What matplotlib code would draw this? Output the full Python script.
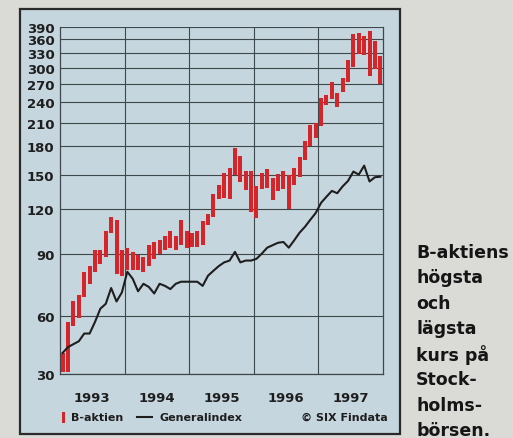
import numpy as np
import matplotlib
matplotlib.use("Agg")
import matplotlib.pyplot as plt
from matplotlib.patches import Rectangle
from matplotlib.lines import Line2D

# monthly high / low for the B share, Jan 1993 - Dec 1997
high = [41, 57, 66, 69, 80, 83, 92, 92, 104, 114, 112, 92,
        93, 91, 89, 88, 95, 97, 98, 101, 104, 101, 112, 104,
        103, 104, 111, 116, 132, 140, 152, 157, 178, 169, 154, 154,
        139, 152, 156, 147, 151, 154, 150, 157, 168, 187, 207, 210,
        247, 251, 274, 255, 280, 315, 373, 375, 368, 380, 357, 324]
low = [31, 31, 55, 59, 68, 74, 80, 84, 88, 103, 79, 78,
       81, 81, 81, 80, 83, 87, 90, 92, 93, 92, 95, 93,
       94, 94, 95, 108, 114, 128, 129, 128, 150, 143, 136, 118,
       113, 137, 138, 127, 135, 137, 120, 140, 148, 165, 180, 190,
       206, 235, 244, 233, 256, 274, 302, 328, 325, 284, 297, 270]
general = [41, 44, 45.5, 47, 51, 51, 57, 63, 65, 72, 66, 70,
           80, 76.5, 70.5, 74, 72.5, 69.5, 74, 73, 71.5, 74, 75, 75,
           75, 75, 73, 78, 80.5, 83, 85, 86, 91, 85, 86, 86,
           87, 90, 93.5, 95, 96.5, 97, 93.5, 98, 103, 107, 112, 117,
           125, 130, 135, 133, 139, 144, 153, 150, 159, 143.5, 147.5, 148]
years = ["1993", "1994", "1995", "1996", "1997"]
yticks = [30, 60, 90, 120, 150, 180, 210, 240, 270, 300, 330, 360, 390]
side_text = ["B-aktiens", "högsta", "och", "lägsta", "kurs på",
             "Stock-", "holms-", "börsen."]

W, H = 513, 439
RED = "#d4262a"
PANEL = "#c6d6de"
PAPER = "#dadad6"
INK = "#1e1e1e"
GRID = "#3e474c"


# chart's own y scale: log above 60, compressed linear below
def fwd(v):
    v = np.asarray(v, dtype=float)
    lg = np.log(np.maximum(v, 1e-6) / 60.0)
    lin = (v - 60.0) / 30.0 * (58.0 / 155.0)
    return np.where(v >= 60, lg, lin)


def inv(u):
    u = np.asarray(u, dtype=float)
    ex = 60.0 * np.exp(np.minimum(u, 50))
    lin = 60.0 + u * 30.0 * 155.0 / 58.0
    return np.where(u >= 0, ex, lin)


def fx(x):
    return x / W


def fy(y):
    return 1 - y / H


fig = plt.figure(figsize=(W / 100, H / 100), dpi=100)
fig.patch.set_facecolor(PAPER)

# light blue panel with dark border
fig.patches.append(Rectangle((fx(20), fy(435)), 380 / W, 425 / H,
                             transform=fig.transFigure, facecolor=PANEL,
                             edgecolor="#2a2a2a", linewidth=1.6, zorder=-5))

ax = fig.add_axes([fx(60), fy(375), 323 / W, 347 / H])
ax.set_zorder(2)
ax.set_facecolor(PANEL)
ax.set_yscale("function", functions=(fwd, inv))
ax.set_xlim(0, 60)
ax.set_ylim(30, 390)

x = np.arange(len(high)) + 0.5
hi = np.array(high)
lo = np.array(low)
ax.bar(x, hi - lo, bottom=lo, width=0.74, color=RED, zorder=3)
ax.plot(x, general, color=INK, linewidth=1.5, zorder=4)

ax.set_yticks(yticks)
ax.set_yticklabels([str(t) for t in yticks], fontsize=9.5, fontweight="bold",
                   color=INK)
ax.yaxis.set_minor_locator(matplotlib.ticker.NullLocator())
ax.set_xticks([6, 18, 30, 42, 54])
ax.set_xticklabels(years, fontsize=9.5, fontweight="bold", color=INK)
ax.set_xticks([12, 24, 36, 48], minor=True)
ax.tick_params(axis="both", which="both", length=0)
ax.tick_params(axis="y", pad=4)
ax.tick_params(axis="x", pad=12)
ax.grid(axis="y", which="major", color=GRID, linewidth=0.8)
ax.grid(axis="x", which="minor", color=GRID, linewidth=0.8)
ax.set_axisbelow(True)
for name, sp in ax.spines.items():
    sp.set_color(GRID)
    sp.set_linewidth(0.9)
ax.spines["top"].set_visible(False)

# legend row
fig.patches.append(Rectangle((fx(62), fy(424)), 3 / W, 11 / H,
                             transform=fig.transFigure, facecolor=RED,
                             edgecolor="none"))
fig.text(fx(71), fy(418), "B-aktien", fontsize=8, fontweight="bold",
         color=INK, va="center", ha="left")
fig.lines.append(Line2D([fx(137), fx(152)], [fy(418), fy(418)],
                        transform=fig.transFigure, color=INK, linewidth=1.5))
fig.text(fx(159), fy(418), "Generalindex", fontsize=8, fontweight="bold",
         color=INK, va="center", ha="left")
fig.text(fx(388), fy(418), "© SIX Findata", fontsize=8, fontweight="bold",
         color=INK, va="center", ha="right")

# caption to the right of the panel
for k, line in enumerate(side_text):
    fig.text(fx(416), fy(253 + 25.5 * k), line, fontsize=12.5,
             fontweight="bold", color="#151515", va="center", ha="left")

fig.savefig("out.png", dpi=100, facecolor=fig.get_facecolor())
